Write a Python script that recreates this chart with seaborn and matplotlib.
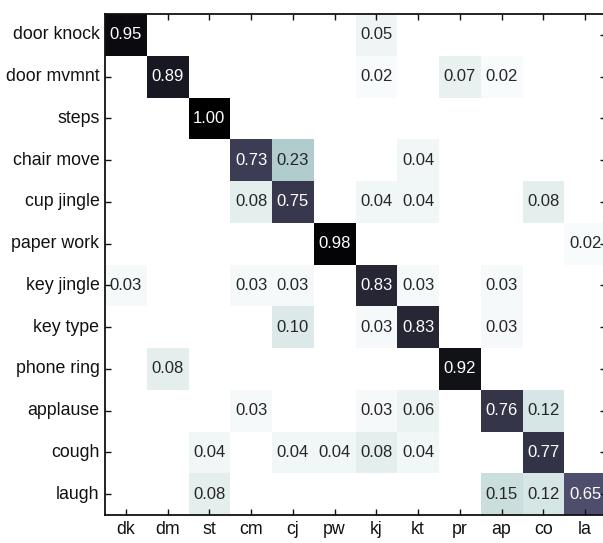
import matplotlib
matplotlib.use("Agg")
import matplotlib.pyplot as plt
import numpy as np
import pandas as pd
import seaborn as sns

# Class names (rows = true class, columns = predicted class)
row_labels = [
    "door knock", "door mvmnt", "steps", "chair move", "cup jingle", "paper work",
    "key jingle", "key type", "phone ring", "applause", "cough", "laugh",
]
col_labels = ["dk", "dm", "st", "cm", "cj", "pw", "kj", "kt", "pr", "ap", "co", "la"]

# Confusion matrix values
door_knock = [0.95, 0, 0, 0, 0, 0, 0.05, 0, 0, 0, 0, 0]
door_mvmnt = [0, 0.89, 0, 0, 0, 0, 0.02, 0, 0.07, 0.02, 0, 0]
steps = [0, 0, 1.00, 0, 0, 0, 0, 0, 0, 0, 0, 0]
chair_move = [0, 0, 0, 0.73, 0.23, 0, 0, 0.04, 0, 0, 0, 0]
cup_jingle = [0, 0, 0, 0.08, 0.75, 0, 0.04, 0.04, 0, 0, 0.08, 0]
paper_work = [0, 0, 0, 0, 0, 0.98, 0, 0, 0, 0, 0, 0.02]
key_jingle = [0.03, 0, 0, 0.03, 0.03, 0, 0.83, 0.03, 0, 0.03, 0, 0]
key_type = [0, 0, 0, 0, 0.10, 0, 0.03, 0.83, 0, 0.03, 0, 0]
phone_ring = [0, 0.08, 0, 0, 0, 0, 0, 0, 0.92, 0, 0, 0]
applause = [0, 0, 0, 0.03, 0, 0, 0.03, 0.06, 0, 0.76, 0.12, 0]
cough = [0, 0, 0.04, 0, 0.04, 0.04, 0.08, 0.04, 0, 0, 0.77, 0]
laugh = [0, 0, 0.08, 0, 0, 0, 0, 0, 0, 0.15, 0.12, 0.65]

cm = pd.DataFrame(
    [door_knock, door_mvmnt, steps, chair_move, cup_jingle, paper_work,
     key_jingle, key_type, phone_ring, applause, cough, laugh],
    index=row_labels,
    columns=col_labels,
)

# only non-zero cells get a number
annot = cm.map(lambda v: f"{v:.2f}" if v > 0 else "")

plt.rcParams["font.family"] = ["Liberation Sans", "DejaVu Sans"]
plt.rcParams["xtick.direction"] = "in"
plt.rcParams["ytick.direction"] = "in"

fig = plt.figure(figsize=(6.03, 5.43), dpi=100)
ax = fig.add_axes([105 / 603, 28 / 543, 501 / 603, 501 / 543])

sns.heatmap(
    cm,
    ax=ax,
    cmap="bone_r",
    vmin=0,
    vmax=1,
    annot=annot,
    fmt="",
    cbar=False,
    annot_kws={"fontsize": 12},
)

for spine in ax.spines.values():
    spine.set_visible(True)
    spine.set_linewidth(1.3)
    spine.set_color("#111111")

ax.tick_params(
    axis="both", which="major", direction="in", length=4.5, width=1,
    top=True, right=True, bottom=True, left=True,
    labelsize=12.8, color="#111111", labelcolor="#111111", pad=4,
)
ax.set_yticklabels(row_labels, rotation=0)
ax.set_xticklabels(col_labels, rotation=0)
ax.set_xlabel("")
ax.set_ylabel("")

fig.savefig("out.png", dpi=100, facecolor="white")
